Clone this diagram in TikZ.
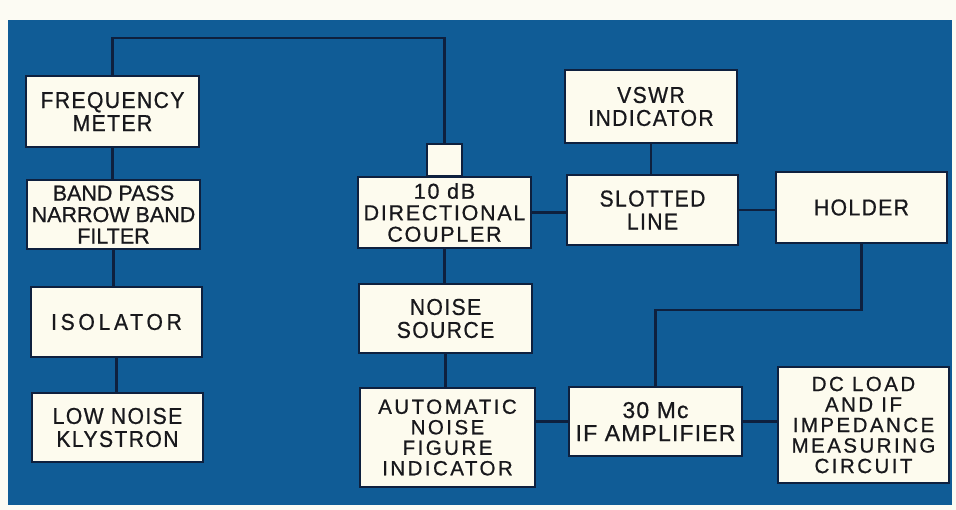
\documentclass[tikz,border=0pt]{standalone}
\usepackage{fontspec}
\newfontfamily\lab{Liberation Sans}[LetterSpace=6,FakeStretch=0.92,FakeBold=0.7]
\newfontfamily\labB{Liberation Sans}[LetterSpace=0,FakeBold=0.7]
\newfontfamily\labC{Liberation Sans}[LetterSpace=8,FakeBold=0.7]
\newfontfamily\labD{Liberation Sans}[LetterSpace=5,FakeBold=0.7]
\newfontfamily\labE{Liberation Sans}[LetterSpace=12,FakeBold=0.7]
\newfontfamily\labw{Liberation Sans}[LetterSpace=16,FakeStretch=0.92,FakeBold=0.7]
\definecolor{bgblue}{RGB}{16,92,150}
\definecolor{paper}{RGB}{252,251,243}
\definecolor{boxfill}{RGB}{253,251,238}
\definecolor{ink}{RGB}{14,32,62}
\definecolor{txt}{RGB}{24,24,28}
\begin{document}
\begin{tikzpicture}[x=1pt,y=-1pt,
  blk/.style={draw=ink, line width=2.8pt, fill=boxfill, inner sep=0pt, align=center,
    text=txt, font=\lab\fontsize{23}{23}\selectfont},
  wire/.style={draw=ink, line width=2.8pt}]
\useasboundingbox (0,0) rectangle (956,510);
\fill[paper] (0,0) rectangle (956,510);
\fill[bgblue] (8,20) rectangle (952,505);
% left column
\node[blk, minimum width=173, minimum height=71] (fm) at (112.5,111.5) {FREQUENCY\\METER};
\node[blk, minimum width=173, minimum height=69, font=\labB\fontsize{21.5}{21.5}\selectfont] (bp) at (113.5,214.5) {BAND PASS\\NARROW BAND\\FILTER};
\node[blk, minimum width=171, minimum height=70, font=\labw\fontsize{23}{23}\selectfont] (iso) at (116.5,322) {ISOLATOR};
\node[blk, minimum width=171, minimum height=69] (kly) at (117.5,427.5) {LOW NOISE\\KLYSTRON};
% middle column
\node[blk, minimum width=35, minimum height=32] (sq) at (444.5,160) {};
\node[blk, minimum width=173, minimum height=71, font=\labC\fontsize{21.5}{21.5}\selectfont] (cpl) at (444.5,212.5) {10 dB\\DIRECTIONAL\\COUPLER};
\node[blk, minimum width=173, minimum height=69] (ns) at (445.5,318.5) {NOISE\\SOURCE};
\node[blk, minimum width=175, minimum height=99, font=\labE\fontsize{20.5}{20.5}\selectfont] (anf) at (447.5,437.5) {AUTOMATIC\\NOISE\\FIGURE\\INDICATOR};
% right part
\node[blk, minimum width=172, minimum height=73] (vswr) at (651,106.5) {VSWR\\INDICATOR};
\node[blk, minimum width=171, minimum height=70] (sl) at (652.5,210) {SLOTTED\\LINE};
\node[blk, minimum width=171, minimum height=71] (hold) at (861.5,207.5) {HOLDER};
\node[blk, minimum width=173, minimum height=69, font=\labD\fontsize{23}{23}\selectfont] (ifa) at (655.5,421.5) {30 Mc\\IF AMPLIFIER};
\node[blk, minimum width=171, minimum height=116, font=\labE\fontsize{20.5}{20.5}\selectfont] (dcl) at (863.5,425) {DC LOAD\\AND IF\\IMPEDANCE\\MEASURING\\CIRCUIT};
% connectors
\coordinate (toprun) at (0,38);
\coordinate (bendrun) at (0,310);
\draw[wire] (fm.north) -- (fm.north |- toprun) -| (sq.north);
\draw[wire] (fm.south) -- (fm.south |- bp.north);
\draw[wire] (bp.south) -- (bp.south |- iso.north);
\draw[wire] (iso.south) -- (iso.south |- kly.north);
\draw[wire] (cpl.south) -- (cpl.south |- ns.north);
\draw[wire] (ns.south) -- (ns.south |- anf.north);
\draw[wire] (cpl.east) -- (cpl.east -| sl.west);
\draw[wire] (sl.east) -- (sl.east -| hold.west);
\draw[wire] (vswr.south) -- (vswr.south |- sl.north);
\draw[wire] (ifa.west -| anf.east) -- (ifa.west);
\draw[wire] (ifa.east) -- (ifa.east -| dcl.west);
\draw[wire] (hold.south) -- (hold.south |- bendrun) -| (ifa.north);
\end{tikzpicture}
\end{document}
